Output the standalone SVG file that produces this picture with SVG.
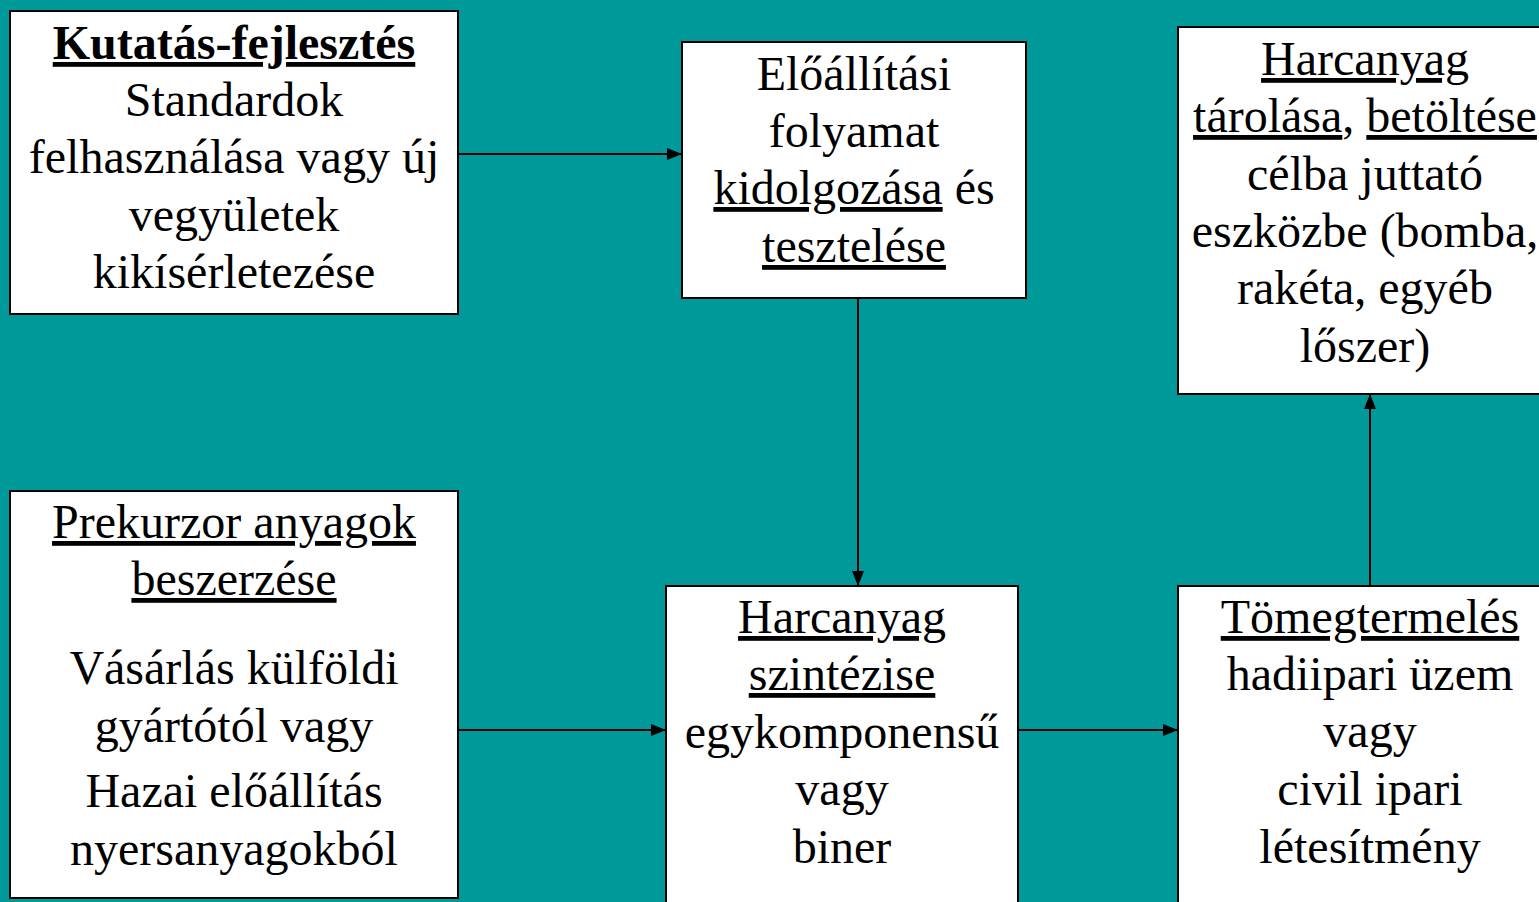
<svg xmlns="http://www.w3.org/2000/svg" width="1539" height="902" viewBox="0 0 1539 902">
<style>
.box{fill:#fff;stroke:#000;stroke-width:2}
.t{font-family:'Liberation Serif','Times New Roman',serif;font-size:48px;fill:#000;text-anchor:middle}
.u{text-decoration:underline}
.b{font-weight:bold}
.c{stroke:#000;stroke-width:2;fill:none;marker-end:url(#ah)}
</style>
<defs>
<marker id="ah" markerUnits="userSpaceOnUse" markerWidth="16" markerHeight="12" refX="15" refY="6" orient="auto">
<path d="M0,0 L15,6 L0,12 Z" fill="#000"/>
</marker>
</defs>
<rect width="1539" height="902" fill="#009999"/>
<g id="connectors">
<line class="c" x1="458" y1="154" x2="682" y2="154"/>
<line class="c" x1="858" y1="298" x2="858" y2="586"/>
<line class="c" x1="458" y1="730" x2="666" y2="730"/>
<line class="c" x1="1018" y1="730" x2="1178" y2="730"/>
<line class="c" x1="1370" y1="586" x2="1370" y2="394"/>
</g>
<g id="n1">
<rect class="box" x="10" y="11" width="448" height="303"/>
<text class="t" x="234" y="59"><tspan class="b u">Kutatás-fejlesztés</tspan></text>
<text class="t" x="234" y="116">Standardok</text>
<text class="t" x="234" y="173">felhasználása vagy új</text>
<text class="t" x="234" y="231">vegyületek</text>
<text class="t" x="234" y="288">kikísérletezése</text>
</g>
<g id="n2">
<rect class="box" x="682" y="42" width="344" height="256"/>
<text class="t" x="854" y="90">Előállítási</text>
<text class="t" x="854" y="147">folyamat</text>
<text class="t" x="854" y="204"><tspan class="u">kidolgozása</tspan> és</text>
<text class="t" x="854" y="262"><tspan class="u">tesztelése</tspan></text>
</g>
<g id="n3">
<rect class="box" x="1178" y="27" width="370" height="367"/>
<text class="t" x="1365" y="75"><tspan class="u">Harcanyag</tspan></text>
<text class="t" x="1365" y="132"><tspan class="u">tárolása</tspan>, <tspan class="u">betöltése</tspan></text>
<text class="t" x="1365" y="190">célba juttató</text>
<text class="t" x="1365" y="247">eszközbe (bomba,</text>
<text class="t" x="1365" y="304">rakéta, egyéb</text>
<text class="t" x="1365" y="362">lőszer)</text>
</g>
<g id="n4">
<rect class="box" x="10" y="491" width="448" height="407"/>
<text class="t" x="234" y="538"><tspan class="u">Prekurzor anyagok</tspan></text>
<text class="t" x="234" y="595"><tspan class="u">beszerzése</tspan></text>
<text class="t" x="234" y="684">Vásárlás külföldi</text>
<text class="t" x="234" y="742">gyártótól vagy</text>
<text class="t" x="234" y="807">Hazai előállítás</text>
<text class="t" x="234" y="865">nyersanyagokból</text>
</g>
<g id="n5">
<rect class="box" x="666" y="586" width="352" height="330"/>
<text class="t" x="842" y="633"><tspan class="u">Harcanyag</tspan></text>
<text class="t" x="842" y="690"><tspan class="u">szintézise</tspan></text>
<text class="t" x="842" y="748">egykomponensű</text>
<text class="t" x="842" y="805">vagy</text>
<text class="t" x="842" y="863">biner</text>
</g>
<g id="n6">
<rect class="box" x="1178" y="586" width="370" height="330"/>
<text class="t" x="1370" y="633"><tspan class="u">Tömegtermelés</tspan></text>
<text class="t" x="1370" y="690">hadiipari üzem</text>
<text class="t" x="1370" y="747">vagy</text>
<text class="t" x="1370" y="805">civil ipari</text>
<text class="t" x="1370" y="863">létesítmény</text>
</g>
</svg>
